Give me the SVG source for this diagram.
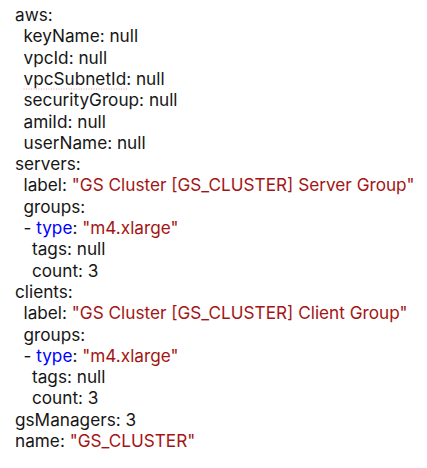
<svg xmlns="http://www.w3.org/2000/svg" width="427" height="468" viewBox="0 0 427 468">
<style>
text{font-family:Inter,"Noto Sans","Liberation Sans",sans-serif;font-size:17.2px;fill:#161616;white-space:pre}
.s{fill:#a31515}
.k{fill:#0000ff}
</style>
<rect width="427" height="468" fill="#fff"/>
<g id="code">
<text x="15" y="21">aws:</text>
<text x="23.5" y="42.3">keyName: null</text>
<text x="23.5" y="63.6">vpcId: null</text>
<text x="23.5" y="84.9">vpcSubnetId: null</text>
<line x1="23.5" y1="89" x2="128" y2="89" stroke="#f0a0a0" stroke-width="1" stroke-dasharray="1 1.5"/>
<text x="23.5" y="106.2">securityGroup: null</text>
<text x="23.5" y="127.5">amiId: null</text>
<text x="23.5" y="148.8">userName: null</text>
<text x="15" y="170.1">servers:</text>
<text x="23.5" y="191.4">label: <tspan class="s">"GS Cluster [GS_CLUSTER] Server Group"</tspan></text>
<text x="23.5" y="212.7">groups:</text>
<text x="23.5" y="234">- <tspan class="k">type</tspan>: <tspan class="s">"m4.xlarge"</tspan></text>
<text x="32" y="255.3">tags: null</text>
<text x="32" y="276.6">count: 3</text>
<text x="15" y="297.9">clients:</text>
<text x="23.5" y="319.2">label: <tspan class="s">"GS Cluster [GS_CLUSTER] Client Group"</tspan></text>
<text x="23.5" y="340.5">groups:</text>
<text x="23.5" y="361.8">- <tspan class="k">type</tspan>: <tspan class="s">"m4.xlarge"</tspan></text>
<text x="32" y="383.1">tags: null</text>
<text x="32" y="404.4">count: 3</text>
<text x="15" y="425.7">gsManagers: 3</text>
<text x="15" y="447">name: <tspan class="s">"GS_CLUSTER"</tspan></text>
</g>
</svg>
